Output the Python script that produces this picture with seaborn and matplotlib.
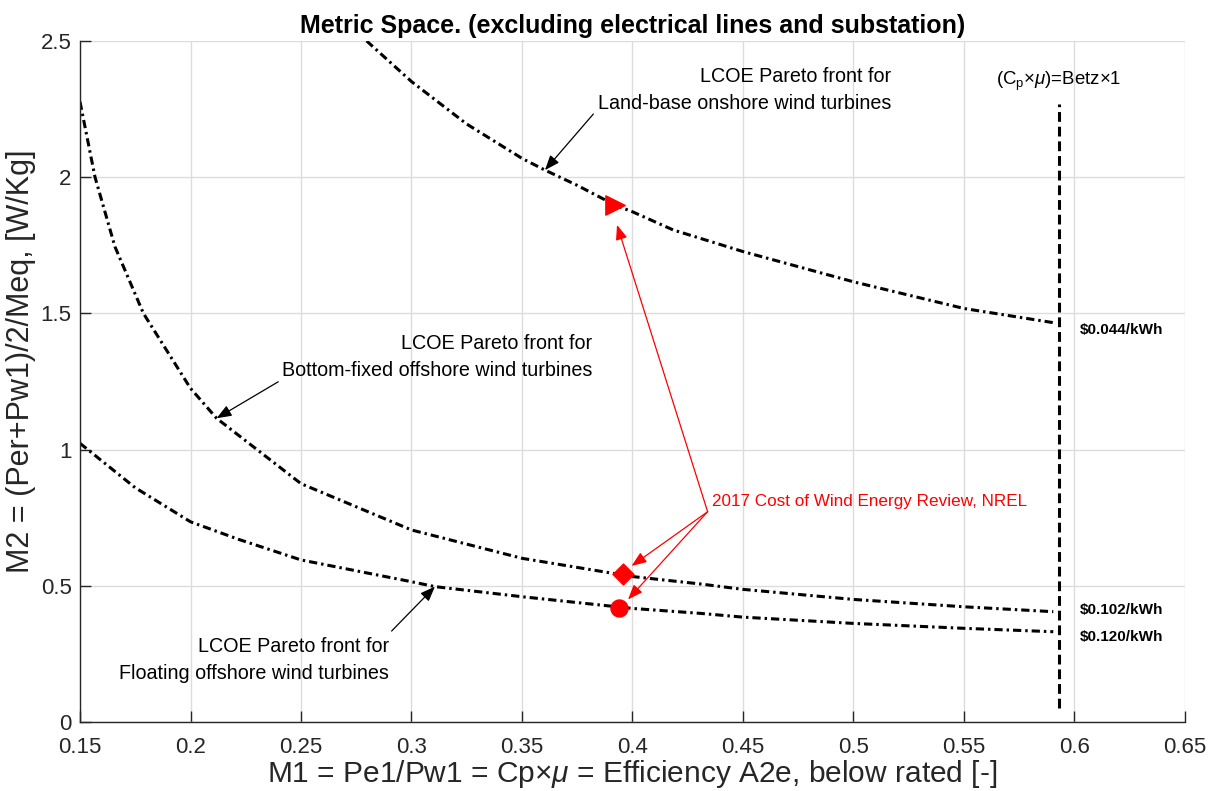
import pandas as pd
import seaborn as sns
import matplotlib.pyplot as plt

# Pareto fronts
onshore_x = [0.2797, 0.30, 0.325, 0.35, 0.3604, 0.375, 0.392, 0.40, 0.4185, 0.4305, 0.45, 0.50, 0.55, 0.5904]
onshore_y = [2.50, 2.351, 2.195, 2.069, 2.026, 1.97, 1.898, 1.873, 1.806, 1.776, 1.727, 1.616, 1.518, 1.466]

fixed_x = [0.15, 0.1568, 0.1658, 0.1787, 0.20, 0.2118, 0.25, 0.30, 0.35, 0.40, 0.4305, 0.45, 0.50, 0.55, 0.5904]
fixed_y = [2.277, 2.0, 1.745, 1.5, 1.225, 1.115, 0.875, 0.705, 0.601, 0.534, 0.507, 0.487, 0.450, 0.423, 0.405]

floating_x = [0.15, 0.175, 0.20, 0.2216, 0.25, 0.30, 0.3106, 0.35, 0.40, 0.4305, 0.45, 0.50, 0.55, 0.5904]
floating_y = [1.023, 0.86, 0.735, 0.671, 0.595, 0.515, 0.497, 0.460, 0.417, 0.399, 0.385, 0.362, 0.344, 0.3315]

# NREL 2017 points
nrel_x = [0.392, 0.3955, 0.394]
nrel_y = [1.898, 0.543, 0.42]
nrel_marker = ['>', 'D', 'o']

betz_x = [0.5931, 0.5931]
betz_y = [0.05, 2.27]

xticks = [0.15, 0.2, 0.25, 0.3, 0.35, 0.4, 0.45, 0.5, 0.55, 0.6, 0.65]
xtick_labels = ['0.15', '0.2', '0.25', '0.3', '0.35', '0.4', '0.45', '0.5', '0.55', '0.6', '0.65']
yticks = [0, 0.5, 1, 1.5, 2, 2.5]
ytick_labels = ['0', '0.5', '1', '1.5', '2', '2.5']

costs = ['$0.044/kWh', '$0.102/kWh', '$0.120/kWh']
cost_y = [1.439, 0.411, 0.313]

sns.set_style("white")
plt.rcParams['font.family'] = ['Liberation Sans', 'DejaVu Sans']
plt.rcParams['mathtext.fontset'] = 'custom'
plt.rcParams['mathtext.rm'] = 'Liberation Sans'
plt.rcParams['mathtext.it'] = 'Liberation Sans:italic'

fig = plt.figure(figsize=(12.14, 7.91), dpi=100)
ax = fig.add_axes([0.0659, 0.0872, 0.9102, 0.861])

dashdot = (0, (2.7, 1.3, 0.8, 1.3))
for xs, ys in [(onshore_x, onshore_y), (fixed_x, fixed_y), (floating_x, floating_y)]:
    sns.lineplot(x=xs, y=ys, ax=ax, color='black', lw=2.2, linestyle=dashdot,
                 sort=False, estimator=None)

sns.lineplot(x=betz_x, y=betz_y, ax=ax, color='black', lw=2.2, linestyle=(0, (3.2, 1.6)),
             sort=False, estimator=None)

for x, y, m in zip(nrel_x, nrel_y, nrel_marker):
    size = {'>': 190, 'D': 115, 'o': 150}[m]
    sns.scatterplot(x=[x], y=[y], ax=ax, marker=m, s=size, color='red', edgecolor='red', zorder=5)

ax.set_xlim(0.15, 0.65)
ax.set_ylim(0, 2.5)
ax.set_xticks(xticks)
ax.set_xticklabels(xtick_labels)
ax.set_yticks(yticks)
ax.set_yticklabels(ytick_labels)
ax.grid(True, color='#dcdcdc', lw=1)
ax.set_axisbelow(True)
for s in ['top', 'right']:
    ax.spines[s].set_visible(False)
for s in ['left', 'bottom']:
    ax.spines[s].set_color('#262626')
    ax.spines[s].set_linewidth(1)
ax.tick_params(direction='in', length=8, width=1, colors='#262626', labelsize=16,
               bottom=True, left=True)
ax.tick_params(axis='x', pad=11)
ax.tick_params(axis='y', pad=6)

ax.set_title('Metric Space. (excluding electrical lines and substation)',
             fontsize=18, fontweight='bold', color='black', pad=6)
ax.set_xlabel('M1 = Pe1/Pw1 = Cp$\\times\\mu$ = Efficiency A2e, below rated [-]',
              fontsize=21.5, color='#262626', labelpad=0)
ax.set_ylabel('M2 = (Per+Pw1)/2/Meq, [W/Kg]', fontsize=22, color='#262626')
ax.yaxis.set_label_coords(-0.040, 0.53)

# Labels for the three fronts
front_labels = ['LCOE Pareto front for\nLand-base onshore wind turbines',
                'LCOE Pareto front for\nBottom-fixed offshore wind turbines',
                'LCOE Pareto front for\nFloating offshore wind turbines']
label_pos = [(0.517, 2.320), (0.3817, 1.340), (0.2898, 0.2276)]
arrow_tail = [(0.3823, 2.232), (0.2397, 1.249), (0.291, 0.334)]
arrow_tip = [(0.3604, 2.026), (0.2118, 1.115), (0.3106, 0.497)]
for txt, (tx, ty), tail, tip in zip(front_labels, label_pos, arrow_tail, arrow_tip):
    ax.text(tx, ty, txt, ha='right', va='center', multialignment='right',
            fontsize=14.2, color='black', linespacing=1.55)
    ax.annotate('', xy=tip, xytext=tail,
                arrowprops=dict(arrowstyle='-|>,head_length=0.9,head_width=0.35',
                                color='black', lw=0.9, shrinkA=0, shrinkB=0))

# NREL annotation
ax.text(0.436, 0.809, '2017 Cost of Wind Energy Review, NREL', ha='left', va='center',
        fontsize=12.3, color='red')
red_tail = (0.434, 0.772)
red_tips = [(0.393, 1.825), (0.3996, 0.573), (0.398, 0.45)]
for tip in red_tips:
    ax.annotate('', xy=tip, xytext=red_tail,
                arrowprops=dict(arrowstyle='-|>,head_length=0.9,head_width=0.35',
                                color='red', lw=0.9, shrinkA=0, shrinkB=0))

for c, y in zip(costs, cost_y):
    ax.text(0.6025, y, c.replace('$', '\\$'), ha='left', va='center',
            fontsize=11, fontweight='bold', color='black')

ax.text(0.5645, 2.351, '(C$_\\mathrm{p}$$\\times\\mu$)=Betz$\\times$1', ha='left', va='center',
        fontsize=13.4, color='black')

plt.savefig('out.png', dpi=100)
